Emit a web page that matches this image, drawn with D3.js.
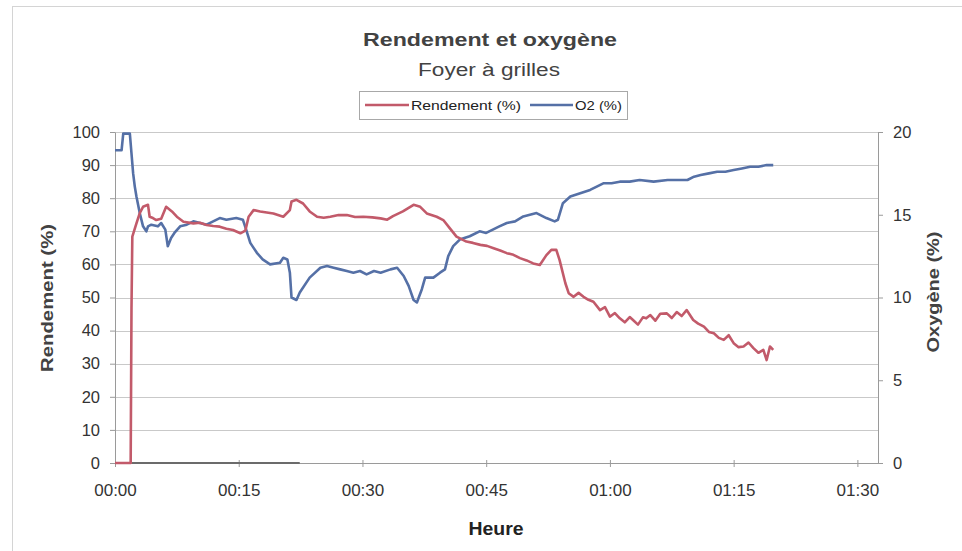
<!DOCTYPE html>
<html><head><meta charset="utf-8">
<script src="https://cdn.jsdelivr.net/npm/d3@7"></script>
<style>
html,body{margin:0;padding:0;background:#fff;}
svg{display:block;font-family:"Liberation Sans",Arial,sans-serif;}
</style></head>
<body>
<svg id="chart" width="962" height="551"></svg>
<script>
// ---- data (time in minutes, value) ----
const chartTitle = "Rendement et oxygène";
const chartSubtitle = "Foyer à grilles";
const seriesNames = ["Rendement (%)", "O2 (%)"];
const xTickMinutes = [0, 15, 30, 45, 60, 75, 90];
const leftTicks = [0,10,20,30,40,50,60,70,80,90,100];
const rightTicks = [0,5,10,15,20];

const rendementData = [
 [0,0],[1.9,0],[2.0,47],[2.1,68.4],[2.6,72.4],[3.0,75.5],[3.4,77.4],[4.0,78],[4.2,74.4],[4.6,74],
 [5.0,73.4],[5.6,73.8],[6.2,77.4],[6.9,76],[7.5,74.4],[8.3,72.9],[9.5,72.4],[10.3,72.6],[11.1,71.9],[11.9,71.6],
 [12.7,71.4],[13.5,70.8],[14.3,70.4],[15.2,69.4],[15.8,70.2],[16.2,74.4],[16.8,76.4],[17.6,76],[18.4,75.7],[19.2,75.4],
 [20.4,74.4],[21.2,76.4],[21.4,79],[22.0,79.5],[22.8,78.4],[23.6,76],[24.5,74.4],[25.3,74.1],[26.1,74.4],[27.1,74.9],
 [28.1,74.9],[29.1,74.3],[30.1,74.4],[31.2,74.2],[32.2,73.9],[33.0,73.5],[33.7,74.6],[34.9,76],[36.2,78],[37.0,77.4],
 [37.8,75.4],[39.0,74.4],[39.8,73.4],[40.6,70.9],[41.4,68.4],[42.6,66.9],[43.4,66.5],[44.3,65.9],[45.1,65.6],[45.9,64.9],
 [46.7,64.2],[47.5,63.4],[48.3,62.9],[49.1,61.9],[49.9,61.2],[50.7,60.3],[51.5,59.8],[52.3,62.8],[52.9,64.4],[53.5,64.4],
 [53.9,61.3],[54.6,54.3],[55.0,51.3],[55.6,50.2],[56.2,51.4],[56.8,50.2],[57.4,49.3],[58.0,48.7],[58.8,46.2],[59.4,47.1],
 [60.0,44.2],[60.6,45.3],[61.2,43.7],[61.8,42.5],[62.4,44.1],[62.8,43.2],[63.4,41.8],[64.0,44.0],[64.4,43.7],[64.9,44.7],
 [65.5,43.0],[66.1,45.1],[66.9,45.2],[67.5,43.8],[68.1,45.6],[68.7,44.4],[69.3,46.2],[70.1,43.2],[70.7,42.1],[71.4,41.2],
 [72.0,39.6],[72.6,39.2],[73.2,37.8],[73.8,37.2],[74.4,38.6],[75.0,36.2],[75.6,35.0],[76.2,35.2],[76.8,36.4],[77.4,34.7],
 [78.0,33.3],[78.6,34.2],[79.0,31.1],[79.4,35.2],[79.8,34.2]
];

const o2Data = [
 [0,18.9],[0.8,18.9],[1.0,19.9],[1.8,19.9],[2.0,18.7],[2.2,17.5],[2.4,16.7],[2.6,16.1],[3.0,15.1],[3.4,14.3],
 [3.8,14.0],[4.0,14.3],[4.4,14.4],[5.2,14.3],[5.6,14.5],[6.1,14.1],[6.4,13.1],[6.8,13.6],[7.2,13.9],[7.9,14.3],
 [8.7,14.4],[9.5,14.6],[10.3,14.5],[11.1,14.4],[11.9,14.6],[12.7,14.8],[13.5,14.7],[14.7,14.8],[15.5,14.7],[15.9,14.1],
 [16.4,13.3],[17.2,12.7],[17.9,12.3],[18.8,12.0],[20.0,12.1],[20.4,12.4],[20.9,12.3],[21.2,11.5],[21.4,10.0],[22.0,9.85],
 [22.4,10.3],[23.6,11.2],[24.9,11.8],[25.7,11.9],[26.5,11.8],[27.3,11.7],[28.1,11.6],[28.9,11.5],[29.7,11.6],[30.5,11.4],
 [31.4,11.6],[32.2,11.5],[33.4,11.7],[34.2,11.8],[35.0,11.3],[35.6,10.7],[36.2,9.85],[36.6,9.7],[37.2,10.5],[37.6,11.2],
 [38.6,11.2],[39.4,11.5],[40.0,11.7],[40.4,12.5],[41.0,13.1],[41.8,13.5],[43.0,13.7],[44.2,14.0],[45.0,13.9],[45.8,14.1],
 [46.6,14.3],[47.5,14.5],[48.5,14.6],[49.5,14.9],[50.3,15.0],[51.1,15.1],[52.3,14.8],[53.3,14.6],[53.7,14.7],[54.3,15.7],
 [55.2,16.1],[56.4,16.3],[57.6,16.5],[58.4,16.7],[59.2,16.9],[60.2,16.9],[61.2,17.0],[62.4,17.0],[63.6,17.1],[65.3,17.0],
 [67.0,17.1],[68.2,17.1],[69.4,17.1],[70.2,17.3],[71.0,17.4],[72.0,17.5],[73.0,17.6],[74.0,17.6],[75.0,17.7],[76.0,17.8],
 [77.0,17.9],[78.0,17.9],[79.0,18.0],[79.8,18.0]
];

const baselineSeg = [[2.0,0],[22.4,0]];

// ---- layout ----
const svg = d3.select("#chart");
const W = 962, H = 551;
const plot = {left:115, right:878, top:132, bottom:463};
const xMax = 92.5;

const x = d3.scaleLinear().domain([0, xMax]).range([plot.left, plot.right]);
const yL = d3.scaleLinear().domain([0, 100]).range([plot.bottom, plot.top]);
const yR = d3.scaleLinear().domain([0, 20]).range([plot.bottom, plot.top]);

const fmtTime = m => String(Math.floor(m/60)).padStart(2,"0") + ":" + String(m%60).padStart(2,"0");

// frame
svg.append("rect").attr("x",12.5).attr("y",6.5).attr("width",980).attr("height",600)
  .attr("fill","none").attr("stroke","#d4d4d4");

// gridlines
svg.append("g").selectAll("line").data(leftTicks.filter(d=>d>0)).join("line")
  .attr("x1",plot.left).attr("x2",plot.right)
  .attr("y1",d=>Math.round(yL(d))+0.5).attr("y2",d=>Math.round(yL(d))+0.5)
  .attr("stroke","#c9c9c9").attr("stroke-width",1);

// axes
const axisColor = "#9a9a9a";
function styleAxis(g){
  g.select(".domain").attr("stroke",axisColor);
  g.selectAll(".tick line").attr("stroke",axisColor);
  g.selectAll(".tick text").attr("fill","#333").style("font-size","16.5px")
   .style("font-family","'Liberation Sans',Arial,sans-serif");
}
svg.append("g").attr("transform",`translate(${plot.left},0)`)
  .call(d3.axisLeft(yL).tickValues(leftTicks).tickSize(5).tickSizeOuter(0).tickPadding(10))
  .call(styleAxis);
svg.append("g").attr("transform",`translate(${plot.right},0)`)
  .call(d3.axisRight(yR).tickValues(rightTicks).tickSize(5).tickSizeOuter(0).tickPadding(10))
  .call(styleAxis);
const xg = svg.append("g").attr("transform",`translate(0,${plot.bottom})`)
  .call(d3.axisBottom(x).tickValues(xTickMinutes).tickFormat(fmtTime).tickSize(4).tickSizeOuter(0).tickPadding(17))
  .call(styleAxis);
xg.selectAll(".tick text").style("font-size","17px");
xg.selectAll(".tick line").attr("y1",-3);

// series
const line = (ys) => d3.line().x(d=>x(d[0])).y(d=>ys(d[1]));
svg.append("path").datum(baselineSeg).attr("d",line(yL))
  .attr("fill","none").attr("stroke","#6b6b6b").attr("stroke-width",1.8);
svg.append("path").datum(o2Data).attr("d",line(yR))
  .attr("fill","none").attr("stroke","#5570a6").attr("stroke-width",2.6).attr("stroke-linejoin","round");
svg.append("path").datum(rendementData).attr("d",line(yL))
  .attr("fill","none").attr("stroke","#c25a6a").attr("stroke-width",2.6).attr("stroke-linejoin","round");

// titles
const tcol = "#424242";
svg.append("text").attr("x",490).attr("y",46).attr("text-anchor","middle")
  .attr("fill",tcol).style("font-size","19px").style("font-weight","bold")
  .attr("textLength",254).attr("lengthAdjust","spacingAndGlyphs").text(chartTitle);
svg.append("text").attr("x",489).attr("y",76).attr("text-anchor","middle")
  .attr("fill",tcol).style("font-size","18px")
  .attr("textLength",142).attr("lengthAdjust","spacingAndGlyphs").text(chartSubtitle);

// legend
const lg = svg.append("g");
lg.append("rect").attr("x",359.5).attr("y",91.5).attr("width",268).attr("height",28)
  .attr("fill","#fff").attr("stroke","#a8a8a8");
const legendItems = [
  {name:seriesNames[0], color:"#c25a6a", x1:365, x2:409, tx:411, tl:110},
  {name:seriesNames[1], color:"#5570a6", x1:530, x2:573, tx:575, tl:47}
];
legendItems.forEach(it=>{
  lg.append("line").attr("x1",it.x1).attr("x2",it.x2).attr("y1",105).attr("y2",105)
    .attr("stroke",it.color).attr("stroke-width",2.4);
  lg.append("text").attr("x",it.tx).attr("y",110).attr("fill","#222").style("font-size","13px")
    .attr("textLength",it.tl).attr("lengthAdjust","spacingAndGlyphs").text(it.name);
});

// axis titles
svg.append("text").attr("transform","translate(53,298) rotate(-90)").attr("text-anchor","middle")
  .attr("fill",tcol).style("font-size","17px").style("font-weight","bold")
  .attr("textLength",148).attr("lengthAdjust","spacingAndGlyphs").text("Rendement (%)");
svg.append("text").attr("transform","translate(939,292) rotate(-90)").attr("text-anchor","middle")
  .attr("fill",tcol).style("font-size","17px").style("font-weight","bold")
  .attr("textLength",121).attr("lengthAdjust","spacingAndGlyphs").text("Oxygène (%)");
svg.append("text").attr("x",496).attr("y",535).attr("text-anchor","middle")
  .attr("fill","#222").style("font-size","18px").style("font-weight","bold")
  .attr("textLength",55).attr("lengthAdjust","spacingAndGlyphs").text("Heure");
</script>
</body></html>
